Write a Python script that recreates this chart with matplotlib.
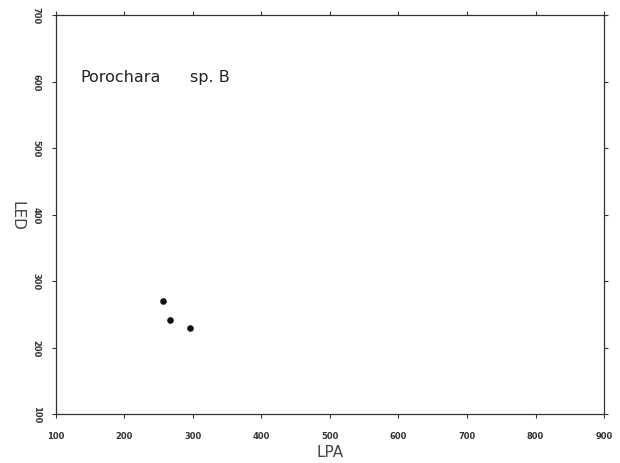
import matplotlib
matplotlib.use("Agg")
import matplotlib.pyplot as plt

# dados
lpa = [256, 267, 296]
led = [270, 242, 230]

xticks = [100, 200, 300, 400, 500, 600, 700, 800, 900]
yticks = [100, 200, 300, 400, 500, 600, 700]

fig = plt.figure(figsize=(6.2, 4.64), dpi=100)
ax = fig.add_axes([0.0903, 0.1056, 0.8839, 0.8599])

ax.scatter(lpa, led, s=14, color="#111111", zorder=3)

ax.set_xlim(100, 900)
ax.set_ylim(100, 700)

ax.set_xticks(xticks)
ax.set_yticks(yticks)
ax.set_xticklabels([str(t) for t in xticks], fontsize=6, color="#333333",
                   fontweight="bold")
ax.set_yticklabels([str(t) for t in yticks], fontsize=6, color="#333333",
                   rotation=-90, va="center", fontweight="bold")

ax.tick_params(axis="x", direction="out", length=3, width=0.8, top=True,
               pad=9, colors="#333333")
ax.tick_params(axis="y", direction="out", length=3, width=0.8, right=True,
               pad=8, colors="#333333")

for s in ax.spines.values():
    s.set_color("#333333")
    s.set_linewidth(0.9)

ax.set_xlabel("LPA", fontsize=11, color="#444444", labelpad=3)
ax.set_ylabel("LED", fontsize=11, color="#444444", rotation=-90, labelpad=16)

ax.text(0.044, 0.845, "Porochara", transform=ax.transAxes,
        fontsize=11.5, color="#222222", va="center")
ax.text(0.244, 0.845, "sp. B", transform=ax.transAxes,
        fontsize=11.5, color="#222222", va="center")

fig.savefig("out.png", dpi=100)
